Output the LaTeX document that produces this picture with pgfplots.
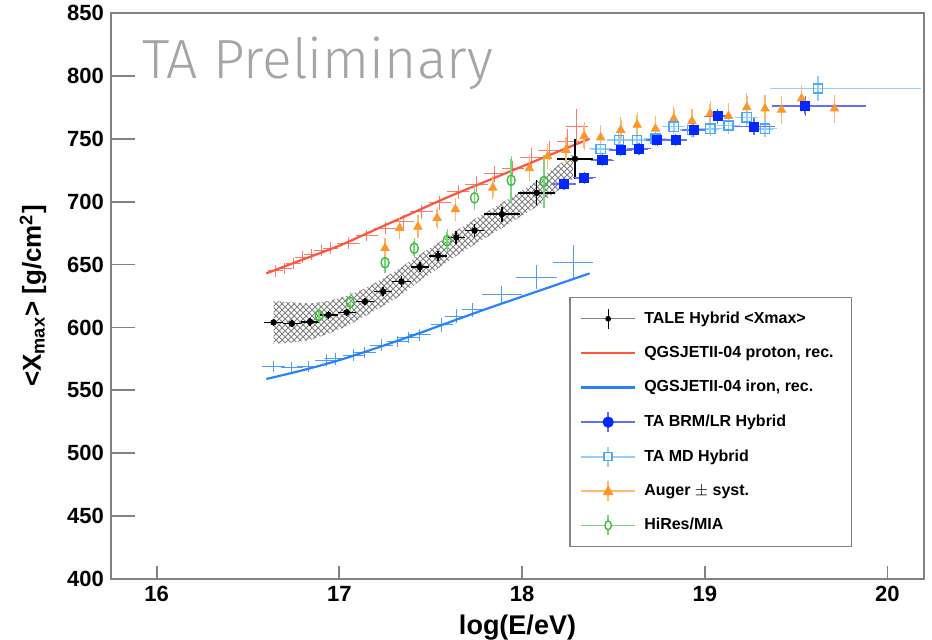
\documentclass[border=0pt]{standalone}
\usepackage{pgfplots}
\pgfplotsset{compat=1.18}
\usepackage{fontspec}
\setmainfont{Liberation Sans}
\newfontfamily\prelimfont{Fira Sans Light}
\usetikzlibrary{patterns}
\definecolor{protred}{RGB}{255,85,60}
\definecolor{ironblue}{RGB}{40,130,255}
\definecolor{simred}{RGB}{255,120,110}
\definecolor{simblue}{RGB}{80,155,255}
\definecolor{brmblue}{RGB}{0,40,255}
\definecolor{brmbar}{RGB}{100,110,255}
\definecolor{mdblue}{RGB}{70,170,255}
\definecolor{mdbar}{RGB}{150,205,255}
\definecolor{augor}{RGB}{255,150,40}
\definecolor{augbar}{RGB}{255,185,110}
\definecolor{hiresg}{RGB}{60,190,60}
\definecolor{hiresbar}{RGB}{120,215,120}
\definecolor{axgray}{RGB}{130,130,130}
\definecolor{prelimgray}{RGB}{165,165,165}

\pgfplotstableread{
x y ex ey
16.64 604 0.05 3
16.74 603 0.05 3
16.84 604.5 0.05 3
16.94 610 0.05 3
17.04 612 0.05 3
17.14 620.5 0.05 3
17.24 628.5 0.05 3.5
17.34 636.5 0.05 4
17.44 648 0.05 4
17.54 657 0.05 4
17.64 671.5 0.05 5
17.74 677 0.05 5
17.89 690 0.1 6
18.08 707 0.1 10
18.29 734 0.1 16
}\tale

\pgfplotstableread{
x y ex ey
16.65 645 0.03 3
16.70 647 0.03 3
16.75 651 0.03 3
16.80 656 0.03 3
16.85 658 0.03 3
16.90 661 0.03 3
16.95 663 0.03 3
17.05 667 0.05 3
17.15 673 0.05 3
17.25 679 0.05 3
17.35 684 0.05 4
17.45 692 0.05 4
17.55 699 0.05 4
17.65 708 0.05 4
17.75 714 0.05 5
17.85 722 0.05 5
17.95 726 0.05 5
18.05 735 0.05 6
18.15 741 0.05 6
18.25 748 0.05 8
18.30 760 0.05 12
}\simp

\pgfplotstableread{
x y ex ey
16.64 569 0.05 3
16.74 568 0.05 3
16.83 569 0.05 3
16.93 574 0.05 3
16.98 575 0.05 3
17.08 578 0.05 3
17.14 580 0.05 3
17.23 586 0.05 3
17.32 589 0.05 3
17.38 592 0.05 3
17.44 594 0.05 3
17.56 602 0.05 4
17.64 609 0.05 4
17.73 614 0.05 4
17.89 626 0.1 5
18.08 640 0.1 8
18.28 652 0.1 12
}\simfe

\pgfplotstableread{
x y exm exp ey
18.23 714 0.05 0.05 3
18.34 719 0.05 0.05 3
18.44 733 0.05 0.05 3
18.54 741 0.05 0.05 3
18.64 742 0.05 0.05 3
18.74 749 0.05 0.05 3
18.84 749 0.05 0.05 3
18.94 757 0.05 0.05 4
19.07 768 0.06 0.06 4
19.27 759.6 0.1 0.1 5
19.55 776 0.17 0.32 6
}\brm

\pgfplotstableread{
x y exm exp ey
18.43 742 0.05 0.05 4
18.53 749 0.05 0.05 4
18.63 749 0.05 0.05 4
18.73 750 0.05 0.05 4
18.83 759.6 0.05 0.05 4
18.93 757 0.05 0.05 4
19.03 758 0.05 0.05 4
19.13 760.5 0.05 0.05 5
19.23 767 0.05 0.05 5
19.33 758 0.05 0.05 5
19.62 790 0.25 0.55 8
}\md

\pgfplotstableread{
x y ey
17.25 663 6
17.33 679 7
17.43 680 7
17.535 687 7
17.635 694 7
17.84 711 7
18.04 726.5 8
18.14 736 8
18.24 741 8
18.34 752 9
18.43 751 8
18.54 757 8
18.63 761 8
18.73 758 8
18.83 766 8
18.93 764 8
19.03 770 8
19.13 768 8
19.23 775 9
19.33 774 9
19.42 773 9
19.53 782 9
19.71 774 9
}\auger

\pgfplotstableread{
x y ey
16.89 609.5 5
17.06 620 6
17.25 651.5 6
17.41 663 6
17.59 669 7
17.74 703 8
17.94 717 17
18.12 716 19
}\hires

\begin{document}
\begin{tikzpicture}
\begin{axis}[
  scale only axis, width=406.5pt, height=283pt,
  xmin=15.75, xmax=20.2, ymin=400, ymax=850,
  xtick={16,17,18,19,20}, ytick={400,450,...,850},
  tick pos=left, tick align=inside,
  axis line style={axgray, line width=0.9pt},
  major tick style={axgray, line width=0.9pt},
  major tick length=12pt,
  x tick style={/pgfplots/major tick length=6.5pt},
  ticklabel style={font=\fontsize{11}{12}\selectfont\bfseries},
  /pgf/number format/assume math mode=true,
  /pgf/number format/1000 sep={},
  xlabel={log(E/eV)},
  xlabel style={font=\fontsize{13.5}{14}\selectfont\bfseries, yshift=0pt},
  ylabel={{<}X\textsubscript{max}{>} [g/cm\textsuperscript{2}]},
  ylabel style={font=\fontsize{13}{14}\selectfont\bfseries, yshift=3.5pt},
  legend style={at={(0.5637,0.4988)}, anchor=north west, draw=axgray,
    line width=0.8pt, fill=white,
    font=\fontsize{8}{9.5}\selectfont\bfseries, row sep=6pt,
    inner xsep=5pt, inner ysep=5pt,
    nodes={inner xsep=4pt}},
  legend cell align=left,
]
\coordinate (ll) at (rel axis cs:0,0);
\coordinate (ur) at (rel axis cs:1,1);

% legend images
\addlegendimage{legend image code/.code={
  \draw[gray, line width=0.5pt] (0pt,0pt)--(27pt,0pt);
  \draw[black, line width=0.6pt] (13.5pt,-5pt)--(13.5pt,5pt);
  \fill[black] (13.5pt,0pt) circle (1pt);}}
\addlegendimage{legend image code/.code={
  \draw[protred, line width=1.1pt] (0pt,0pt)--(27pt,0pt);}}
\addlegendimage{legend image code/.code={
  \draw[ironblue, line width=1.1pt] (0pt,0pt)--(27pt,0pt);}}
\addlegendimage{legend image code/.code={
  \draw[brmbar, line width=0.8pt] (0pt,0pt)--(27pt,0pt);
  \draw[brmbar, line width=0.8pt] (13.5pt,-5pt)--(13.5pt,5pt);
  \fill[brmblue] (13.5pt,0pt) circle (2.4pt);}}
\addlegendimage{legend image code/.code={
  \draw[mdbar, line width=0.8pt] (0pt,0pt)--(27pt,0pt);
  \draw[mdbar, line width=0.8pt] (13.5pt,-5pt)--(13.5pt,5pt);
  \draw[mdblue, line width=0.7pt, fill=white] (11.5pt,-2pt) rectangle (15.5pt,2pt);}}
\addlegendimage{legend image code/.code={
  \draw[augbar, line width=0.8pt] (0pt,0pt)--(27pt,0pt);
  \draw[augbar, line width=0.8pt] (13.5pt,-5pt)--(13.5pt,5pt);
  \fill[augor] (13.5pt,2.2pt)--(15.5pt,-1.6pt)--(11.5pt,-1.6pt)--cycle;}}
\addlegendimage{legend image code/.code={
  \draw[hiresbar, line width=0.8pt] (0pt,0pt)--(27pt,0pt);
  \draw[hiresbar, line width=0.8pt] (13.5pt,-5pt)--(13.5pt,5pt);
  \draw[hiresg, line width=0.7pt, fill=white] (13.5pt,0pt) ellipse (1.6pt and 2.2pt);}}
\legend{TALE Hybrid <Xmax>, QGSJETII-04 proton{,} rec., QGSJETII-04 iron{,} rec.,
  TA BRM/LR Hybrid, TA MD Hybrid, Auger $\pm$ syst., HiRes/MIA}

% systematic band
\addplot[draw=none, pattern=crosshatch, pattern color=gray, forget plot] coordinates {
 (16.64,621) (16.74,620) (16.84,619) (16.94,621) (17.04,625) (17.14,631)
 (17.24,639) (17.34,648) (17.44,658) (17.54,667) (17.64,677) (17.74,686)
 (17.89,699) (18.08,716) (18.28,738)
 (18.28,718) (18.08,696) (17.89,679) (17.74,666) (17.64,657) (17.54,647)
 (17.44,637) (17.34,626) (17.24,617) (17.14,609) (17.04,601) (16.94,595)
 (16.84,590) (16.74,588) (16.64,587)
} -- cycle;

% simulated proton / iron points
\addplot[draw=none, no markers, forget plot,
  error bars/.cd, x dir=both, x explicit, y dir=both, y explicit,
  error bar style={simred, line width=0.5pt},
  error mark options={simred, mark size=1pt, line width=0.5pt}]
  table[x=x, y=y, x error=ex, y error=ey]{\simp};
\addplot[draw=none, no markers, forget plot,
  error bars/.cd, x dir=both, x explicit, y dir=both, y explicit,
  error bar style={simblue, line width=0.5pt},
  error mark options={simblue, mark size=1pt, line width=0.5pt}]
  table[x=x, y=y, x error=ex, y error=ey]{\simfe};

% reconstructed lines
\addplot[protred, line width=1.1pt, smooth, forget plot] coordinates {
 (16.6,643) (16.8,654) (17.0,665) (17.2,678) (17.4,691) (17.6,704)
 (17.8,716) (18.0,728) (18.2,740) (18.37,750)};
\addplot[ironblue, line width=1.1pt, smooth, forget plot] coordinates {
 (16.6,559) (16.8,566) (17.0,574) (17.2,583.5) (17.4,593.5) (17.6,604) (17.8,614.5)
 (18.0,624.5) (18.2,634.5) (18.37,643)};

% TALE
\addplot[only marks, mark=*, mark size=1.4pt, black, forget plot,
  error bars/.cd, x dir=both, x explicit, y dir=both, y explicit,
  error mark=none, error bar style={black, line width=0.8pt}]
  table[x=x, y=y, x error=ex, y error=ey]{\tale};

% HiRes/MIA
\addplot[only marks, mark=o, mark size=2pt,
  mark options={hiresg, line width=0.7pt, fill=white, yscale=1.3}, forget plot,
  error bars/.cd, y dir=both, y explicit,
  error bar style={hiresbar, line width=0.8pt},
  error mark options={hiresbar, mark size=1.2pt, line width=0.6pt}]
  table[x=x, y=y, y error=ey]{\hires};

% Auger
\addplot[only marks, mark=triangle*, mark size=2.4pt,
  mark options={augor}, forget plot,
  error bars/.cd, y dir=both, y explicit,
  error bar style={augbar, line width=0.8pt},
  error mark options={augbar, mark size=1.3pt, line width=0.6pt}]
  table[x=x, y=y, y error=ey]{\auger};

% TA MD
\addplot[only marks, mark=square, mark size=2.3pt,
  mark options={mdblue, line width=0.7pt, fill=white}, forget plot,
  error bars/.cd, x dir=both, x explicit, y dir=both, y explicit,
  error bar style={mdbar, line width=0.8pt},
  error mark options={mdbar, mark size=1.2pt, line width=0.6pt}]
  table[x=x, y=y, x error plus=exp, x error minus=exm, y error=ey]{\md};

% TA BRM/LR
\addplot[only marks, mark=square*, mark size=2.3pt,
  mark options={brmblue}, forget plot,
  error bars/.cd, x dir=both, x explicit, y dir=both, y explicit,
  error bar style={brmbar, line width=0.8pt},
  error mark options={brmbar, mark size=1.2pt, line width=0.6pt}]
  table[x=x, y=y, x error plus=exp, x error minus=exm, y error=ey]{\brm};

\node[anchor=base west, inner sep=0pt, text=prelimgray]
  at (rel axis cs:0.038,0.8846) {\prelimfont\fontsize{27.6}{30}\selectfont TA Preliminary};
\end{axis}
\pgfresetboundingbox
\path[use as bounding box] ([xshift=-55.5pt,yshift=-30.5pt]ll) rectangle ([xshift=4pt,yshift=6.5pt]ur);
\end{tikzpicture}
\end{document}
